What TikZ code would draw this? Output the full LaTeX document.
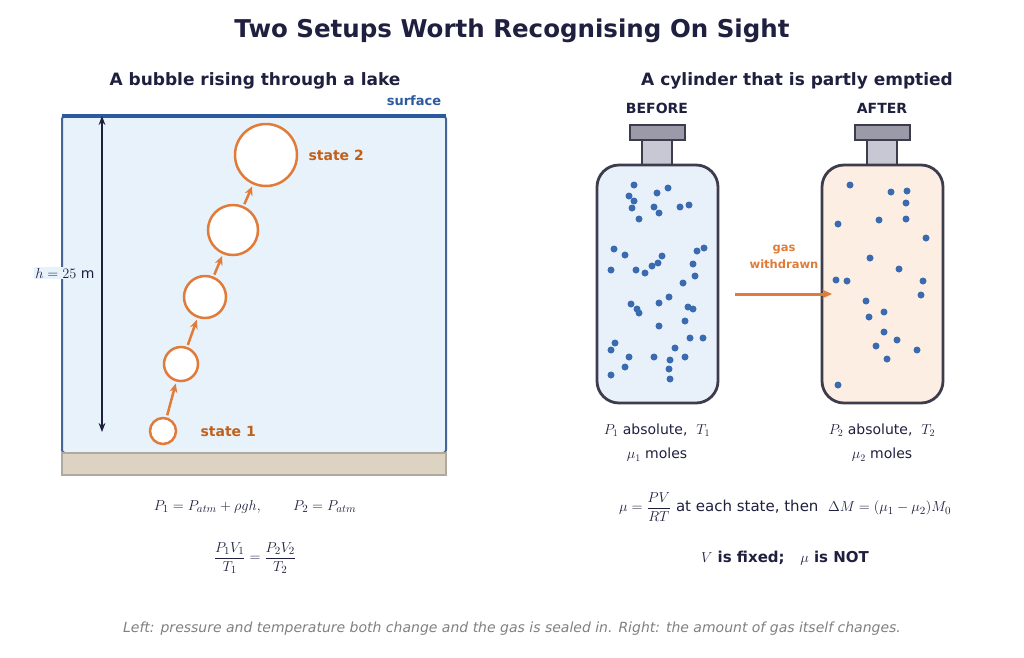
\documentclass[tikz,border=0pt]{standalone}
\usepackage{fontspec}
\setmainfont{DejaVu Sans}
\usepackage{amsmath}
\usetikzlibrary{arrows.meta}
\definecolor{navy}{HTML}{1F1F3F}
\definecolor{bubble}{HTML}{E07B39}
\definecolor{bubtext}{HTML}{C0601A}
\definecolor{lakeblue}{HTML}{2C5AA0}
\definecolor{dotblue}{HTML}{3A6AB0}
\definecolor{lakefill}{HTML}{E8F2FB}
\definecolor{bluefill}{HTML}{E8F0FA}
\definecolor{peach}{HTML}{FDEEE3}
\definecolor{wall}{HTML}{3C3C4C}
\definecolor{capgray}{HTML}{9A9AA8}
\definecolor{neckgray}{HTML}{C8C8D4}
\definecolor{bed}{HTML}{DCD3C3}
\begin{document}
\begin{tikzpicture}[x=1pt,y=-1pt,
    bub/.style = {draw=bubble, fill=white, circle, line width=2.5pt, inner sep=0pt},
    rise/.style = {-{Stealth[length=9pt,width=8pt]}, bubble, line width=2.5pt, shorten <=2pt, shorten >=2pt},
    lbl/.style = {text=navy, font=\fontsize{14}{17}\selectfont},
    head/.style = {text=navy, font=\fontsize{17}{20}\selectfont\bfseries},
    dot/.style = {fill=dotblue, circle, inner sep=0pt, minimum size=7pt}]
\useasboundingbox (0,0) rectangle (1024,657);
\node[text=navy, font=\fontsize{24.5}{29}\selectfont\bfseries] at (512,31) (title) {Two Setups Worth Recognising On Sight};
\node[head] at (255,81) (lefthead) {A bubble rising through a lake};
\node[head] at (797,81) (righthead) {A cylinder that is partly emptied};
% lake
\draw[lakeblue!70!gray, fill=lakefill, line width=2pt, rounded corners=3pt] (62,116) rectangle (446,453);
\draw[draw=bed!50!gray, fill=bed, line width=2pt] (62,453) rectangle (446,475);
\draw[lakeblue, line width=3.5pt] (62,116) -- (446,116);
\node[text=lakeblue, font=\fontsize{13}{15}\selectfont\bfseries] at (414,101) (surf) {surface};
\coordinate (htop) at (102,116);
\coordinate (hbot) at (102,432);
\draw[{Stealth[length=9pt]}-{Stealth[length=9pt]}, navy, line width=2pt] (htop) -- (hbot);
\node[lbl, fill=lakefill, inner sep=1pt] at (65,273) (hlab) {$h = 25$ m};
\node[bub, minimum size=26pt] at (163,431) (b1) {};
\node[bub, minimum size=34pt] at (181,364) (b2) {};
\node[bub, minimum size=42pt] at (205,297) (b3) {};
\node[bub, minimum size=50pt] at (233,230) (b4) {};
\node[bub, minimum size=62pt] at (266,155) (b5) {};
\draw[rise] (b1) -- (b2);
\draw[rise] (b2) -- (b3);
\draw[rise] (b3) -- (b4);
\draw[rise] (b4) -- (b5);
\node[text=bubtext, font=\fontsize{14}{17}\selectfont\bfseries, anchor=west] at (305,155) (s2) {state 2};
\node[text=bubtext, font=\fontsize{14}{17}\selectfont\bfseries, anchor=west] at (197,431) (s1) {state 1};
\node[lbl, font=\fontsize{15}{18}\selectfont] at (255,507) (eq1) {$P_1 = P_{atm} + \rho g h,\qquad P_2 = P_{atm}$};
\node[lbl, font=\fontsize{15}{18}\selectfont] at (255,558) (eq2) {$\dfrac{P_1V_1}{T_1} = \dfrac{P_2V_2}{T_2}$};
% cylinders
\foreach \dx/\col/\word in {0/bluefill/BEFORE, 225/peach/AFTER} {
  \begin{scope}[xshift=\dx]
  \draw[wall, fill=neckgray, line width=2pt] (642,140) rectangle (672,166);
  \draw[wall, fill=capgray, line width=2pt] (630,125) rectangle (685,140);
  \draw[wall, fill=\col, line width=2.8pt, rounded corners=22pt] (597,165) rectangle (718,403);
  \node[head, font=\fontsize{14}{17}\selectfont\bfseries] at (657,108) {\word};
  \end{scope}
}
\foreach \p in {(634,185),(629,196),(634,201),(632,208),(639,219),(657,193),(668,188),(654,207),(659,213),(680,207),(689,205),(614,249),(625,255),(611,270),(636,270),(645,273),(652,266),(658,263),(662,256),(697,251),(704,248),(693,264),(695,276),(683,283),(631,304),(637,309),(639,313),(659,303),(669,297),(688,307),(693,309),(685,321),(659,326),(690,338),(703,338),(615,343),(611,350),(629,357),(675,348),(654,357),(685,357),(670,360),(625,367),(669,369),(611,375),(670,379)}
  \node[dot] at \p {};
\foreach \p in {(850,185),(891,192),(907,191),(906,203),(838,224),(879,220),(906,219),(926,238),(870,258),(899,269),(836,280),(847,281),(923,281),(921,295),(866,301),(869,317),(884,312),(884,332),(897,340),(876,346),(917,350),(887,359),(838,385)}
  \node[dot] at \p {};
\node[text=bubble, font=\fontsize{11.5}{17}\selectfont\bfseries, align=center] at (784,257) (gas) {gas\\withdrawn};
\coordinate (ga) at (735,294);
\coordinate (gb) at (832,294);
\draw[-{Stealth[length=10pt,width=9pt]}, bubble, line width=3pt] (ga) -- (gb);
\node[lbl] at (657,430) (c1a) {$P_1$ absolute,\ \ $T_1$};
\node[lbl] at (657,455) (c1b) {$\mu_1$ moles};
\node[lbl] at (882,430) (c2a) {$P_2$ absolute,\ \ $T_2$};
\node[lbl] at (882,455) (c2b) {$\mu_2$ moles};
\node[lbl, font=\fontsize{15}{18}\selectfont] at (785,507) (eq3) {$\mu = \dfrac{PV}{RT}$ at each state,\ then\ \ $\Delta M = (\mu_1 - \mu_2)M_0$};
\node[lbl, font=\fontsize{15}{18}\selectfont\bfseries] at (785,558) (eq4) {$V$ is fixed;\ \ \ $\mu$ is NOT};
\node[text=gray, font=\fontsize{14}{17}\selectfont\itshape] at (512,629) (foot) {Left: pressure and temperature both change and the gas is sealed in. Right: the amount of gas itself changes.};
\end{tikzpicture}
\end{document}
